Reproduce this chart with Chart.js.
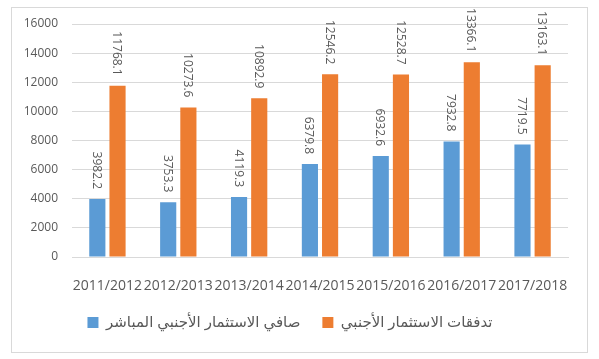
<!DOCTYPE html>
<html>
<head>
<meta charset="utf-8">
<script src="https://cdn.jsdelivr.net/npm/chart.js@4/dist/chart.umd.min.js"></script>
<style>
  html, body { margin: 0; padding: 0; background: #fff; }
  #box {
    position: absolute; left: 11px; top: 7px;
    width: 575px; height: 344px;
    border: 1px solid #d9d9d9;
  }
</style>
</head>
<body>
<div id="box"><canvas id="fdi"></canvas></div>
<script>
const years = ["2011/2012", "2012/2013", "2013/2014", "2014/2015", "2015/2016", "2016/2017", "2017/2018"];
const netFdi = [3982.2, 3753.3, 4119.3, 6379.8, 6932.6, 7932.8, 7719.5];
const fdiFlows = [11768.1, 10273.6, 10892.9, 12546.2, 12528.7, 13366.1, 13163.1];
const yTicks = [0, 2000, 4000, 6000, 8000, 10000, 12000, 14000, 16000];

const TEXT = '#595959';
Chart.defaults.font.family = '"Open Sans", "DejaVu Sans", sans-serif';
Chart.defaults.color = TEXT;

// rotated value labels above each bar
const barLabels = {
  id: 'barLabels',
  afterDatasetsDraw(chart) {
    const ctx = chart.ctx;
    ctx.save();
    ctx.fillStyle = TEXT;
    ctx.font = '12px "Open Sans", "DejaVu Sans", sans-serif';
    ctx.textAlign = 'right';
    ctx.textBaseline = 'middle';
    chart.data.datasets.forEach((ds, i) => {
      chart.getDatasetMeta(i).data.forEach((bar, j) => {
        ctx.save();
        ctx.translate(bar.x - 1, bar.y - 10);
        ctx.rotate(Math.PI / 2);
        ctx.fillText(ds.data[j].toFixed(1), 0, 0);
        ctx.restore();
      });
    });
    ctx.restore();
  }
};

new Chart(document.getElementById('fdi'), {
  type: 'bar',
  data: {
    labels: years,
    datasets: [
      {
        label: 'صافي الاستثمار الأجنبي المباشر',
        data: netFdi,
        backgroundColor: '#5B9BD5',
        categoryPercentage: 0.57,
        barPercentage: 0.8
      },
      {
        label: 'تدفقات الاستثمار الأجنبي',
        data: fdiFlows,
        backgroundColor: '#ED7D31',
        categoryPercentage: 0.57,
        barPercentage: 0.8
      }
    ]
  },
  options: {
    responsive: true,
    maintainAspectRatio: false,
    animation: false,
    layout: { padding: { top: 16, right: 19, left: 0, bottom: 12 } },
    scales: {
      x: {
        grid: { display: false },
        border: { color: '#d9d9d9' },
        ticks: {
          autoSkip: false, maxRotation: 0, minRotation: 0,
          padding: 13,
          font: { size: 14 }
        },
        afterFit(s) { s.height = 36; }
      },
      y: {
        min: 0, max: 16000,
        afterBuildTicks(s) { s.ticks = yTicks.map(v => ({ value: v })); },
        grid: { color: '#d9d9d9', drawTicks: false },
        border: { display: false },
        ticks: { padding: 14, font: { size: 12 }, callback: v => String(v) },
        afterFit(s) {
          s.width = 60;
          s.paddingTop = 0;
          s.paddingBottom = 0;
        }
      }
    },
    plugins: {
      legend: {
        position: 'bottom',
        labels: {
          boxWidth: 11, boxHeight: 11, padding: 22,
          font: { size: 15 },
          color: TEXT
        }
      },
      tooltip: { enabled: false }
    }
  },
  plugins: [barLabels]
});
</script>
</body>
</html>
